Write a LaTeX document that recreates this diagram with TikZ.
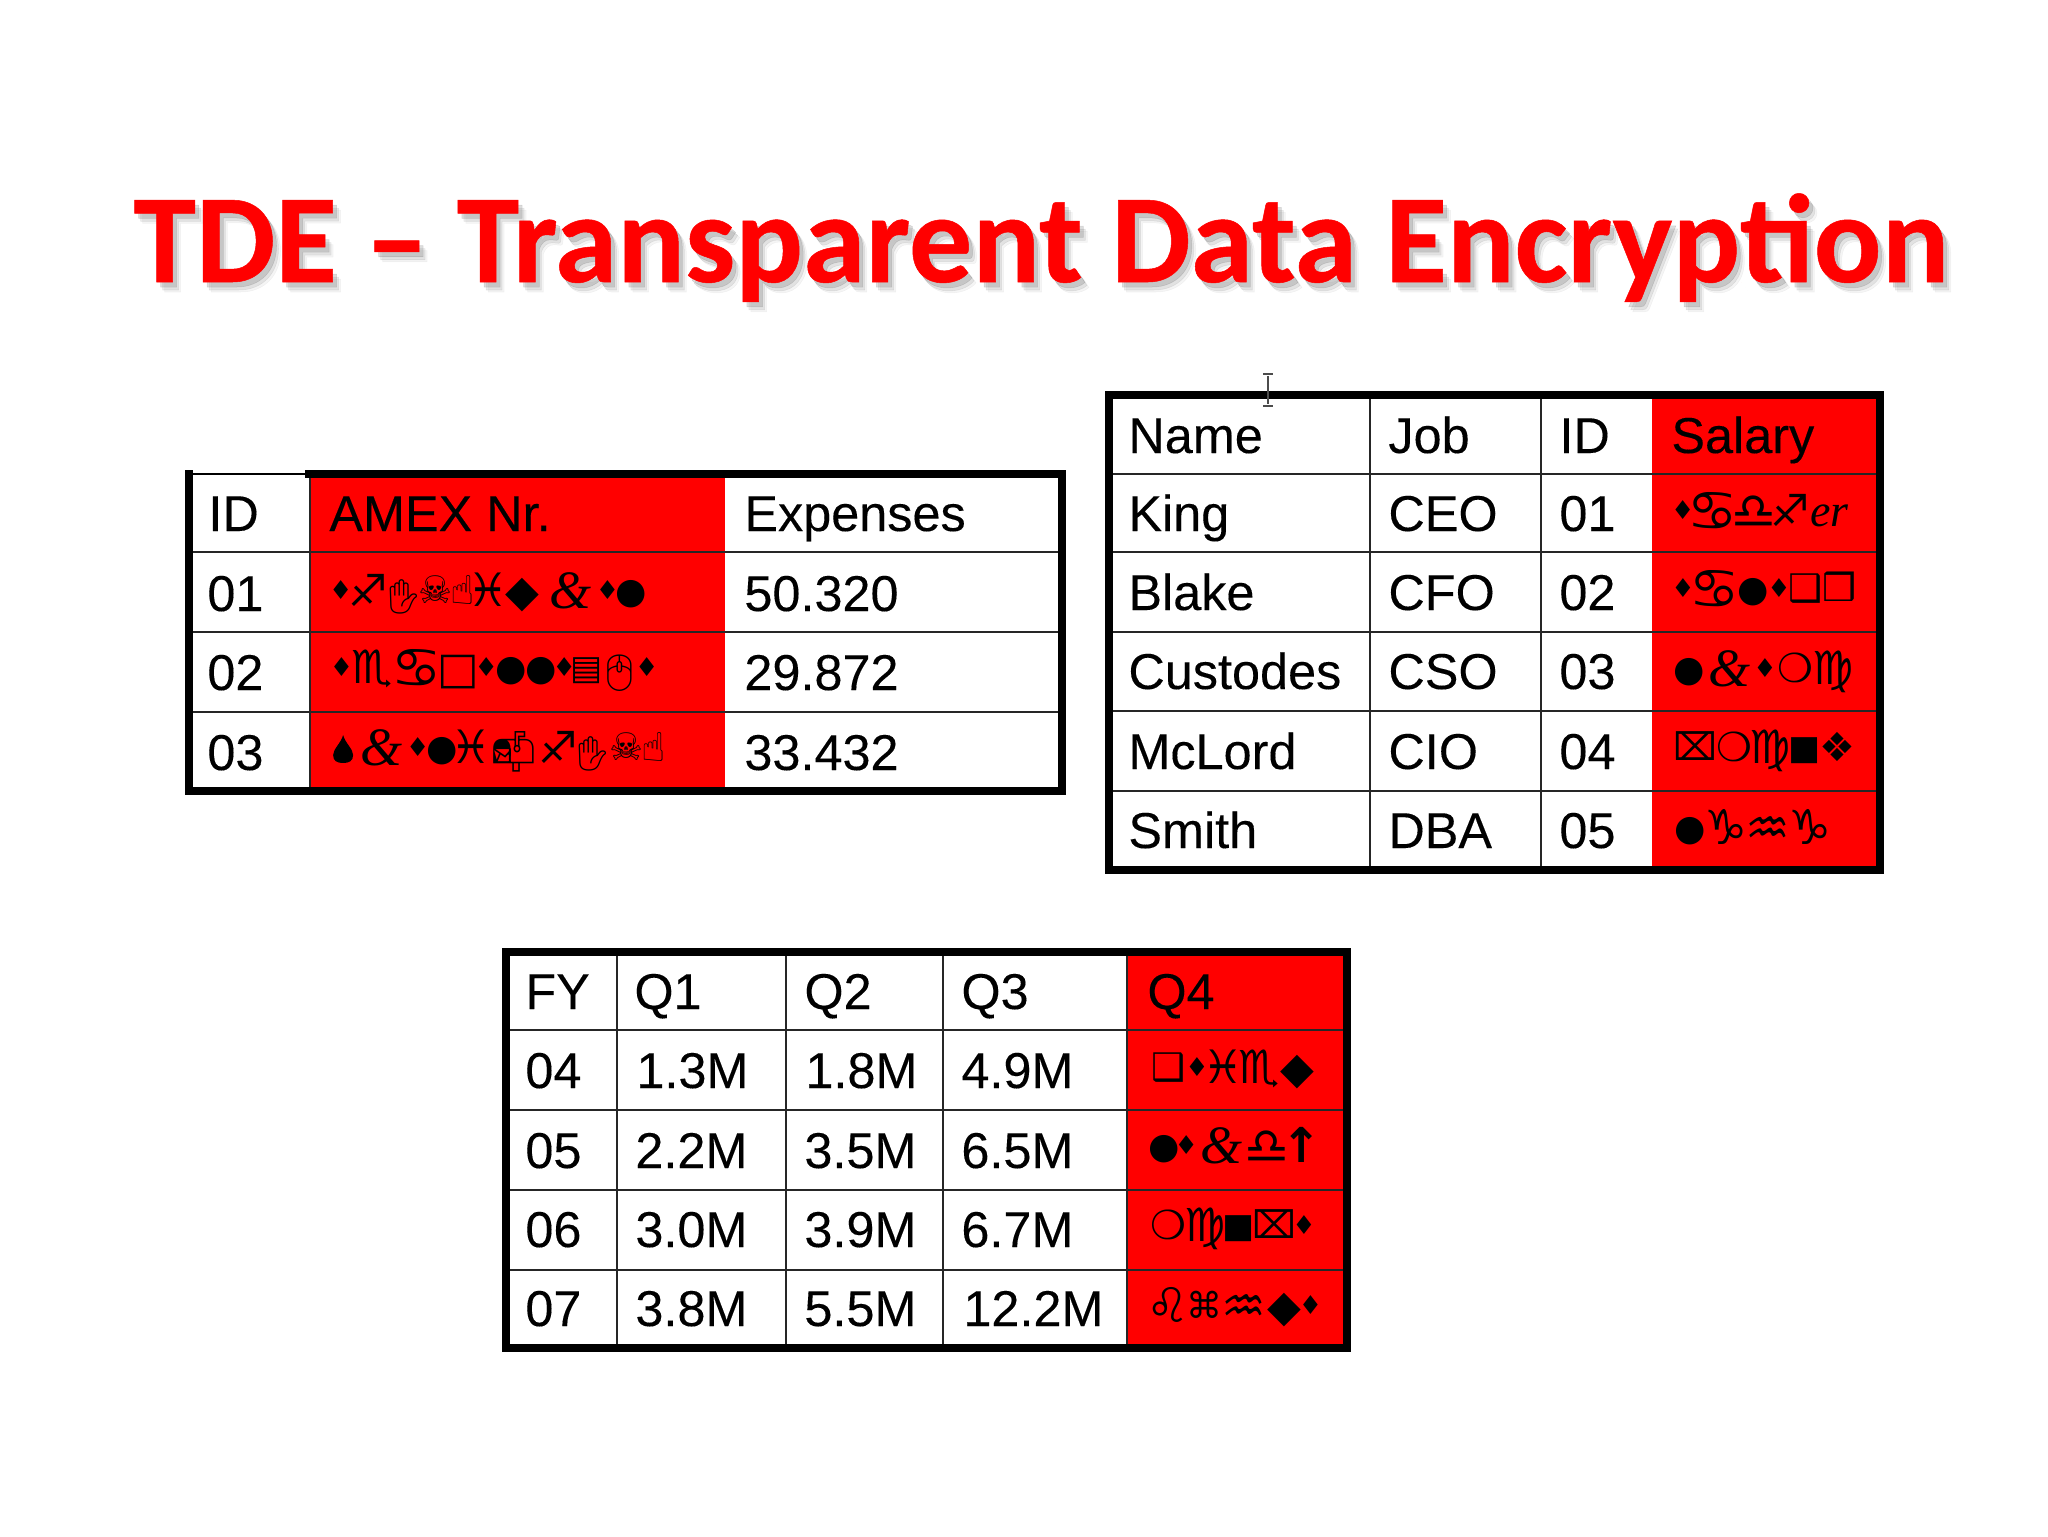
\documentclass[tikz,border=0pt]{standalone}
\usepackage{fontspec}
\setmainfont{Liberation Sans}[FakeBold=0.2]
\newfontfamily\titlef{Carlito}[BoldFont={Carlito Bold},BoldFeatures={FakeBold=0.4},Ligatures=Common]
\newfontfamily\symf{DejaVu Sans}
\newfontfamily\symb{DejaVu Sans Bold}
\newfontfamily\emof{Noto Emoji}
\newfontfamily\ampf{Liberation Serif}
\newdimen\gu \gu=0.5pt
\def\glf{1}
\newcommand{\gl}[2]{\makebox[\glf\dimexpr#1\gu\relax][c]{#2}}
% glyph of a given size, kept centred on the row's axis
\newcommand{\gS}[2]{\raisebox{\dimexpr 7.9pt-0.36\dimexpr#1pt\relax\relax}{\fontsize{#1}{#1}\selectfont #2}}
\newcommand{\gD}{\gS{13}{♦}}
\newcommand{\gB}{\gS{22}{◆}}
\newcommand{\gC}{\gS{18}{●}}
\newcommand{\gSq}{\gS{17}{■}}
\newcommand{\gO}{\gS{20}{\symb ❍}}
\newcommand{\gX}{\gS{19}{⌧}}
\newcommand{\gA}{{\ampf\itshape\fontsize{27}{27}\selectfont\raisebox{-1pt}{\&}}}
\newcommand{\gR}{{\ampf\itshape\fontsize{23}{23}\selectfont er}}
\newcommand{\gH}{\raisebox{-1pt}{\emof\fontsize{17}{17}\selectfont ✋}}
\newcommand{\gMouse}{\raisebox{-1pt}{\emof\fontsize{18}{18}\selectfont 🖱}}
\newcommand{\gMail}{\raisebox{-1pt}{\emof\fontsize{20}{20}\selectfont 📬}}
\newcommand{\gDrop}{\tikz[x=1pt,y=1pt,baseline=0pt]\fill[black] (0,14) .. controls (1,10) and (5,7) .. (5,4) .. controls (5,1) and (3,0) .. (0,0) .. controls (-3,0) and (-5,1) .. (-5,4) .. controls (-5,7) and (-1,10) .. (0,14);}
\newcommand{\gSk}{\gS{19}{☠}}
\newcommand{\gUp}{\gS{20}{\symb ☝}}
\newcommand{\gCan}{\gS{28}{♋}}
\newcommand{\gLib}{\gS{25}{♎}}
\newcommand{\gSag}{\gS{22}{♐}}
\newcommand{\gPis}{\gS{23}{♓}}
\newcommand{\gSco}{\gS{23}{♏}}
\newcommand{\gVir}{\gS{23}{♍}}
\newcommand{\gCap}{\gS{24}{♑}}
\newcommand{\gAqu}{\gS{25}{♒}}
\tikzset{
  x=0.5pt,y=-0.5pt,
  titletext/.style={inner sep=0,anchor=base west,text=red,font=\titlef\bfseries\fontsize{63.1}{72}\selectfont},
  shadowone/.style={titletext,text=black!60,opacity=0.22},
  shadowtwo/.style={titletext,text=black!50,opacity=0.16},
  shadowtri/.style={titletext,text=black!40,opacity=0.10},
  celltext/.style={inner sep=0,anchor=base west,font=\fontsize{25.2}{29}\selectfont,text=black},
  glyphrow/.style={inner sep=0,anchor=base west,font=\symf\fontsize{22}{26}\selectfont,text=black},
  outer/.style={draw=black,line width=4pt,fill=white},
  rule/.style={draw=black!85,line width=1.1pt},
}
\begin{document}
\begin{tikzpicture}
\useasboundingbox (0,0) rectangle (2048,1536);
% title
\node[shadowtri] (titleshC) at (141,292) {TDE – Transparent Data Encryption};
\node[shadowtwo] (titleshB) at (139,290) {TDE – Transparent Data Encryption};
\node[shadowone] (titleshA) at (137,287) {TDE – Transparent Data Encryption};
\node[titletext] (title) at (133,282) {TDE – Transparent Data Encryption};

% table 1
\fill[white] (190,474) rectangle (1062,790);
\fill[red] (310,474) rectangle (725,790);
\draw[rule] (190,552) -- (1062,552) (190,632) -- (1062,632) (190,712) -- (1062,712) (310,474) -- (310,790);
\draw[draw=black,line width=4pt] (305,473.5) -- (1062,473.5) -- (1062,790.5) -- (189,790.5) -- (189,470);
\draw[draw=black,line width=1pt] (190,474) -- (306,474);
\node[celltext] (a11) at (208,531) {ID};
\node[celltext] (a12) at (329,531) {AMEX Nr.};
\node[celltext] (a13) at (744,531) {Expenses};
\node[celltext] (a21) at (207,611) {01};
\node[celltext] (a23) at (744,611) {50.320};
\node[celltext] (a31) at (207,690) {02};
\node[celltext] (a33) at (744,690) {29.872};
\node[celltext] (a41) at (207,770) {03};
\node[celltext] (a43) at (744,770) {33.432};
\node[glyphrow] (a22) at (331,606) {\def\glf{1.03}\gl{18}{\gD}\gl{36}{\gSag}\gl{32}{\gH}\gl{30}{\gSk}\gl{23}{\gUp}\gl{26}{\gPis}\gl{40}{\gB}\gl{54}{\gA}\gl{18}{\gD}\gl{28}{\gC}};
\node[glyphrow] (a32) at (331,683) {\def\glf{1.13}\gl{18}{\gD}\gl{36}{\gSco}\gl{42}{\gCan}\gl{32}{\gS{22}{\symb □}}\gl{18}{\gD}\gl{27}{\gC}\gl{25}{\gC}\gl{16}{\gD}\gl{24}{\gS{17}{▤}}\gl{34}{\gMouse}\gl{14}{\gD}};
\node[glyphrow] (a42) at (331,763) {\def\glf{1.065}\gl{22}{\gDrop}\gl{50}{\gA}\gl{18}{\gD}\gl{28}{\gC}\gl{26}{\gPis}\gl{54}{\gMail}\gl{30}{\gSag}\gl{34}{\gH}\gl{30}{\gSk}\gl{22}{\gUp}};

% table 2
\fill[white] (1109,395) rectangle (1880,870);
\fill[red] (1652,395) rectangle (1880,870);
\draw[rule] (1109,474) -- (1880,474) (1109,552) -- (1880,552) (1109,632) -- (1880,632) (1109,711) -- (1880,711) (1109,791) -- (1880,791)
  (1370,395) -- (1370,870) (1541,395) -- (1541,870);
\draw[outer,fill=none] (1109,395) rectangle (1880,870);
\node[celltext] (b11) at (1128,453) {Name};
\node[celltext] (b12) at (1388,453) {Job};
\node[celltext] (b13) at (1559,453) {ID};
\node[celltext] (b14) at (1671,453) {Salary};
\node[celltext] (b21) at (1128,531) {King};
\node[celltext] (b22) at (1388,531) {CEO};
\node[celltext] (b23) at (1559,531) {01};
\node[celltext] (b31) at (1128,610) {Blake};
\node[celltext] (b32) at (1388,610) {CFO};
\node[celltext] (b33) at (1559,610) {02};
\node[celltext] (b41) at (1128,689) {Custodes};
\node[celltext] (b42) at (1388,689) {CSO};
\node[celltext] (b43) at (1559,689) {03};
\node[celltext] (b51) at (1128,769) {McLord};
\node[celltext] (b52) at (1388,769) {CIO};
\node[celltext] (b53) at (1559,769) {04};
\node[celltext] (b61) at (1128,848) {Smith};
\node[celltext] (b62) at (1388,848) {DBA};
\node[celltext] (b63) at (1559,848) {05};
\node[glyphrow] (b24) at (1674,526) {\def\glf{1.10}\gl{15}{\gD}\gl{39}{\gCan}\gl{36}{\gLib}\gl{31}{\gSag}\gl{40}{\gR}};
\node[glyphrow] (b34) at (1674,604) {\def\glf{1.155}\gl{15}{\gD}\gl{39}{\gCan}\gl{28}{\gC}\gl{17}{\gD}\gl{29}{\gS{19}{\symb ❑}}\gl{30}{\gS{19}{\symb ❒}}};
\node[glyphrow] (b44) at (1674,684) {\def\glf{1.12}\gl{26}{\gC}\gl{46}{\gA}\gl{18}{\gD}\gl{36}{\gO}\gl{31}{\gVir}};
\node[glyphrow] (b54) at (1674,763) {\def\glf{1.125}\gl{37}{\gX}\gl{32}{\gO}\gl{33}{\gVir}\gl{28}{\gSq}\gl{30}{\gS{20}{❖}}};
\node[glyphrow] (b64) at (1674,843) {\def\glf{1.105}\gl{28}{\gC}\gl{38}{\gCap}\gl{38}{\gAqu}\gl{37}{\gCap}};

% table 3
\fill[white] (506,952) rectangle (1347,1348);
\fill[red] (1127,952) rectangle (1347,1348);
\draw[rule] (506,1030) -- (1347,1030) (506,1110) -- (1347,1110) (506,1190) -- (1347,1190) (506,1270) -- (1347,1270)
  (617,952) -- (617,1348) (786,952) -- (786,1348) (943,952) -- (943,1348) (1127,952) -- (1127,1348);
\draw[outer,fill=none] (506,952) rectangle (1347,1348);
\node[celltext] (c11) at (525,1009) {FY};
\node[celltext] (c12) at (634,1009) {Q1};
\node[celltext] (c13) at (804,1009) {Q2};
\node[celltext] (c14) at (961,1009) {Q3};
\node[celltext] (c15) at (1147,1009) {Q4};
\node[celltext] (c21) at (525,1088) {04};
\node[celltext] (c22) at (636,1088) {1.3M};
\node[celltext] (c23) at (805,1088) {1.8M};
\node[celltext] (c24) at (961,1088) {4.9M};
\node[celltext] (c31) at (525,1168) {05};
\node[celltext] (c32) at (635,1168) {2.2M};
\node[celltext] (c33) at (804,1168) {3.5M};
\node[celltext] (c34) at (961,1168) {6.5M};
\node[celltext] (c41) at (525,1247) {06};
\node[celltext] (c42) at (635,1247) {3.0M};
\node[celltext] (c43) at (804,1247) {3.9M};
\node[celltext] (c44) at (961,1247) {6.7M};
\node[celltext] (c51) at (525,1326) {07};
\node[celltext] (c52) at (635,1326) {3.8M};
\node[celltext] (c53) at (804,1326) {5.5M};
\node[celltext] (c54) at (963,1326) {12.2M};
\node[glyphrow] (c25) at (1149,1083) {\def\glf{1.135}\gl{33}{\gS{19}{\symb ❑}}\gl{18}{\gD}\gl{28}{\gPis}\gl{36}{\gSco}\gl{31}{\gB}};
\node[glyphrow] (c35) at (1149,1161) {\def\glf{1.12}\gl{26}{\gC}\gl{14}{\gD}\gl{48}{\gA}\gl{34}{\gLib}\gl{28}{\gS{24}{\symb ↑}}};
\node[glyphrow] (c45) at (1149,1241) {\def\glf{1.18}\gl{32}{\gO}\gl{31}{\gVir}\gl{25}{\gSq}\gl{36}{\gX}\gl{14}{\gD}};
\node[glyphrow] (c55) at (1149,1321) {\def\glf{1.23}\gl{31}{\gS{24}{♌}}\gl{28}{\gS{18}{⌘}}\gl{35}{\gAqu}\gl{31}{\gB}\gl{12}{\gD}};

% text cursor
\draw[black!70,line width=0.8pt] (1268,376) -- (1268,404) (1263,374) -- (1273,374) (1263,406) -- (1273,406);
\end{tikzpicture}
\end{document}
